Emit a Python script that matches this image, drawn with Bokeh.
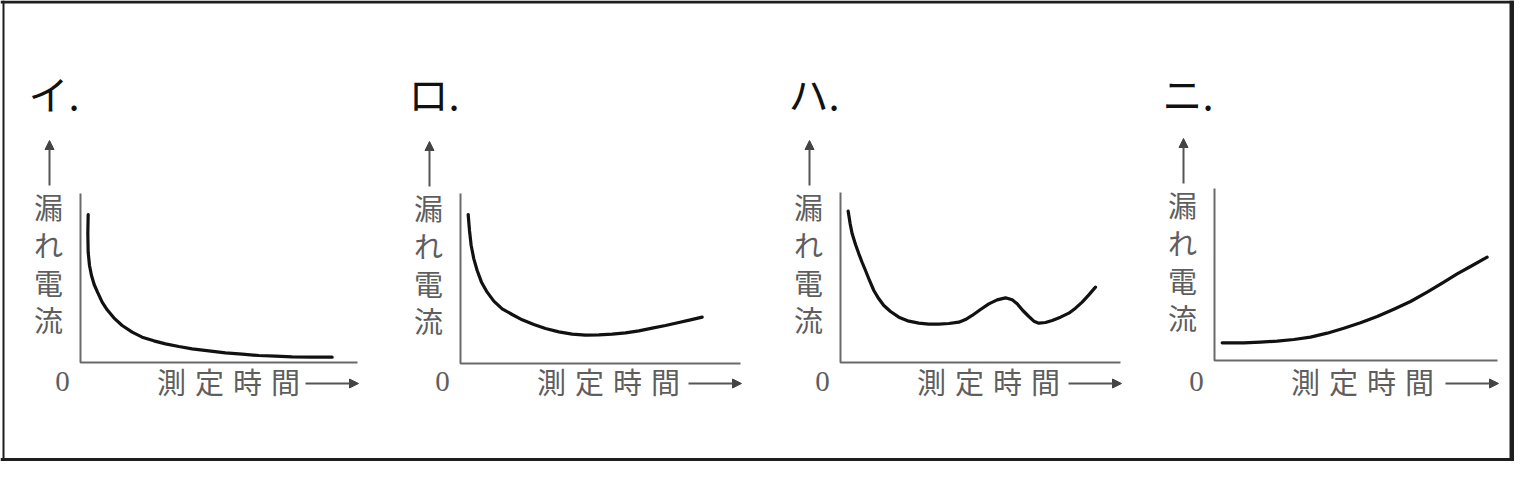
from bokeh.plotting import figure
from bokeh.models import Range1d, Arrow, NormalHead
from bokeh.core.properties import value
from bokeh.embed import file_html
from bokeh.resources import INLINE

# ---------------- data ----------------
panel_titles = ["イ.", "ロ.", "ハ.", "ニ."]
y_label_chars = ["漏", "れ", "電", "流"]
x_label_chars = ["測", "定", "時", "間"]
origin_label = "0"

# curves: x = fraction of the time axis length, y = fraction of the current axis height
i_x = [0.0277, 0.0265, 0.0277, 0.0325, 0.0397, 0.0493, 0.0614, 0.0782, 0.0963, 0.1203, 0.1504,
       0.1865, 0.2226, 0.2647, 0.3069, 0.3550, 0.4031, 0.4633, 0.5235, 0.5836, 0.6438, 0.7040,
       0.7641, 0.8363, 0.9085]
i_y = [0.8757, 0.7614, 0.6529, 0.5740, 0.5148, 0.4615, 0.4162, 0.3570, 0.3116, 0.2643, 0.2189,
       0.1795, 0.1499, 0.1282, 0.1105, 0.0947, 0.0809, 0.0690, 0.0572, 0.0493, 0.0414, 0.0375,
       0.0335, 0.0316, 0.0316]

ro_x = [0.0274, 0.0321, 0.0381, 0.0476, 0.0595, 0.0750, 0.0952, 0.1190, 0.1488, 0.1845, 0.2202,
        0.2619, 0.3036, 0.3512, 0.3988, 0.4464, 0.4940, 0.5417, 0.5893, 0.6369, 0.6845, 0.7321,
        0.7798, 0.8214, 0.8631]
ro_y = [0.8765, 0.7824, 0.6941, 0.6157, 0.5471, 0.4784, 0.4196, 0.3667, 0.3216, 0.2882, 0.2569,
        0.2294, 0.2059, 0.1863, 0.1725, 0.1667, 0.1686, 0.1725, 0.1804, 0.1922, 0.2078, 0.2235,
        0.2412, 0.2569, 0.2725]

ha_x = [0.0274, 0.0345, 0.0417, 0.0536, 0.0655, 0.0774, 0.0893, 0.1036, 0.1190, 0.1369, 0.1548,
        0.1786, 0.2083, 0.2440, 0.2798, 0.3155, 0.3512, 0.3869, 0.4226, 0.4464, 0.4702, 0.5000,
        0.5298, 0.5595, 0.5893, 0.6131, 0.6310, 0.6512, 0.6726, 0.6905, 0.7083, 0.7321, 0.7560,
        0.7857, 0.8155, 0.8393, 0.8631, 0.8869, 0.9107]
ha_y = [0.8902, 0.8157, 0.7569, 0.6941, 0.6392, 0.5882, 0.5412, 0.4824, 0.4235, 0.3745, 0.3353,
        0.3000, 0.2667, 0.2431, 0.2314, 0.2255, 0.2255, 0.2294, 0.2373, 0.2529, 0.2765, 0.3118,
        0.3451, 0.3686, 0.3804, 0.3686, 0.3451, 0.3059, 0.2706, 0.2431, 0.2314, 0.2353, 0.2471,
        0.2667, 0.2902, 0.3196, 0.3549, 0.3980, 0.4431]

ni_x = [0.0271, 0.1036, 0.1625, 0.2214, 0.2803, 0.3392, 0.3981, 0.4570, 0.5159, 0.5748, 0.6337,
        0.6926, 0.7515, 0.8104, 0.8575, 0.9046, 0.9635]
ni_y = [0.1027, 0.1027, 0.1066, 0.1124, 0.1221, 0.1357, 0.1589, 0.1880, 0.2190, 0.2558, 0.2984,
        0.3430, 0.3973, 0.4554, 0.5039, 0.5465, 0.6008]

curves_x = [i_x, ro_x, ha_x, ni_x]
curves_y = [i_y, ro_y, ha_y, ni_y]

# ---------------- layout (page pixel space) ----------------
PANEL_X0 = [80, 460, 840, 1214]
PANEL_Y0 = [362, 363, 362, 360]
PANEL_W = [277, 280, 280, 283]
PANEL_H = [169, 170, 170, 172]

JP = value("Noto Sans CJK JP")
TEXT_GRAY = "#5e5e5e"
AXIS_GRAY = "#6a6a6a"
INK = "#111111"
FRAME = "#1e1e1e"

FW, FH = 1514, 461
p = figure(width=FW, height=FH,
           x_range=Range1d(0, FW), y_range=Range1d(FH, 0),
           x_axis_type=None, y_axis_type=None,
           output_backend="svg", toolbar_location=None, min_border=0)
p.grid.visible = False
p.outline_line_color = None
p.background_fill_color = "white"
p.border_fill_color = "white"

# outer frame
p.line([0, FW], [1.5, 1.5], line_color=FRAME, line_width=3)
p.line([3, 3], [0, FH], line_color=FRAME, line_width=2)
p.line([FW - 2.5, FW - 2.5], [0, FH], line_color=FRAME, line_width=5)
p.line([0, FW], [FH - 2, FH - 2], line_color=FRAME, line_width=3)

for k in range(4):
    ox, oy, W, H = PANEL_X0[k], PANEL_Y0[k], PANEL_W[k], PANEL_H[k]

    # axes (L shape)
    p.line([ox, ox, ox + W], [oy - H, oy, oy], line_color=AXIS_GRAY, line_width=2)

    # curve
    xs = [ox + v * W for v in curves_x[k]]
    ys = [oy - v * H for v in curves_y[k]]
    p.line(xs, ys, line_color=INK, line_width=3.2, line_join="round", line_cap="round")

    # title
    p.text(x=[ox - 52], y=[92], text=[panel_titles[k]], text_font=JP,
           text_font_size=value("40px"), text_color=INK,
           text_align="left", text_baseline="middle")

    # up arrow
    p.add_layout(Arrow(end=NormalHead(size=9, fill_color="#444444", line_color="#444444"),
                       x_start=ox - 31, y_start=oy - 177, x_end=ox - 31, y_end=oy - 222,
                       line_color="#555555", line_width=2))

    # vertical y label
    p.text(x=[ox - 32] * 4, y=[oy - 157, oy - 119, oy - 81, oy - 44], text=y_label_chars,
           text_font=JP, text_font_size=value("29px"), text_color=TEXT_GRAY,
           text_align="center", text_baseline="middle")

    # origin 0
    p.text(x=[ox - 18], y=[381], text=[origin_label], text_font=value("Liberation Serif"),
           text_font_size=value("29px"), text_color=TEXT_GRAY,
           text_align="center", text_baseline="middle")

    # x label
    p.text(x=[ox + 91 + 38 * i for i in range(4)], y=[380] * 4, text=x_label_chars,
           text_font=JP, text_font_size=value("29px"), text_color=TEXT_GRAY,
           text_align="center", text_baseline="middle")

    # right arrow
    p.add_layout(Arrow(end=NormalHead(size=9, fill_color="#444444", line_color="#444444"),
                       x_start=ox + W - 52, y_start=383, x_end=ox + W + 1, y_end=383,
                       line_color="#555555", line_width=2))

open("out.html", "w").write(file_html(p, INLINE))
